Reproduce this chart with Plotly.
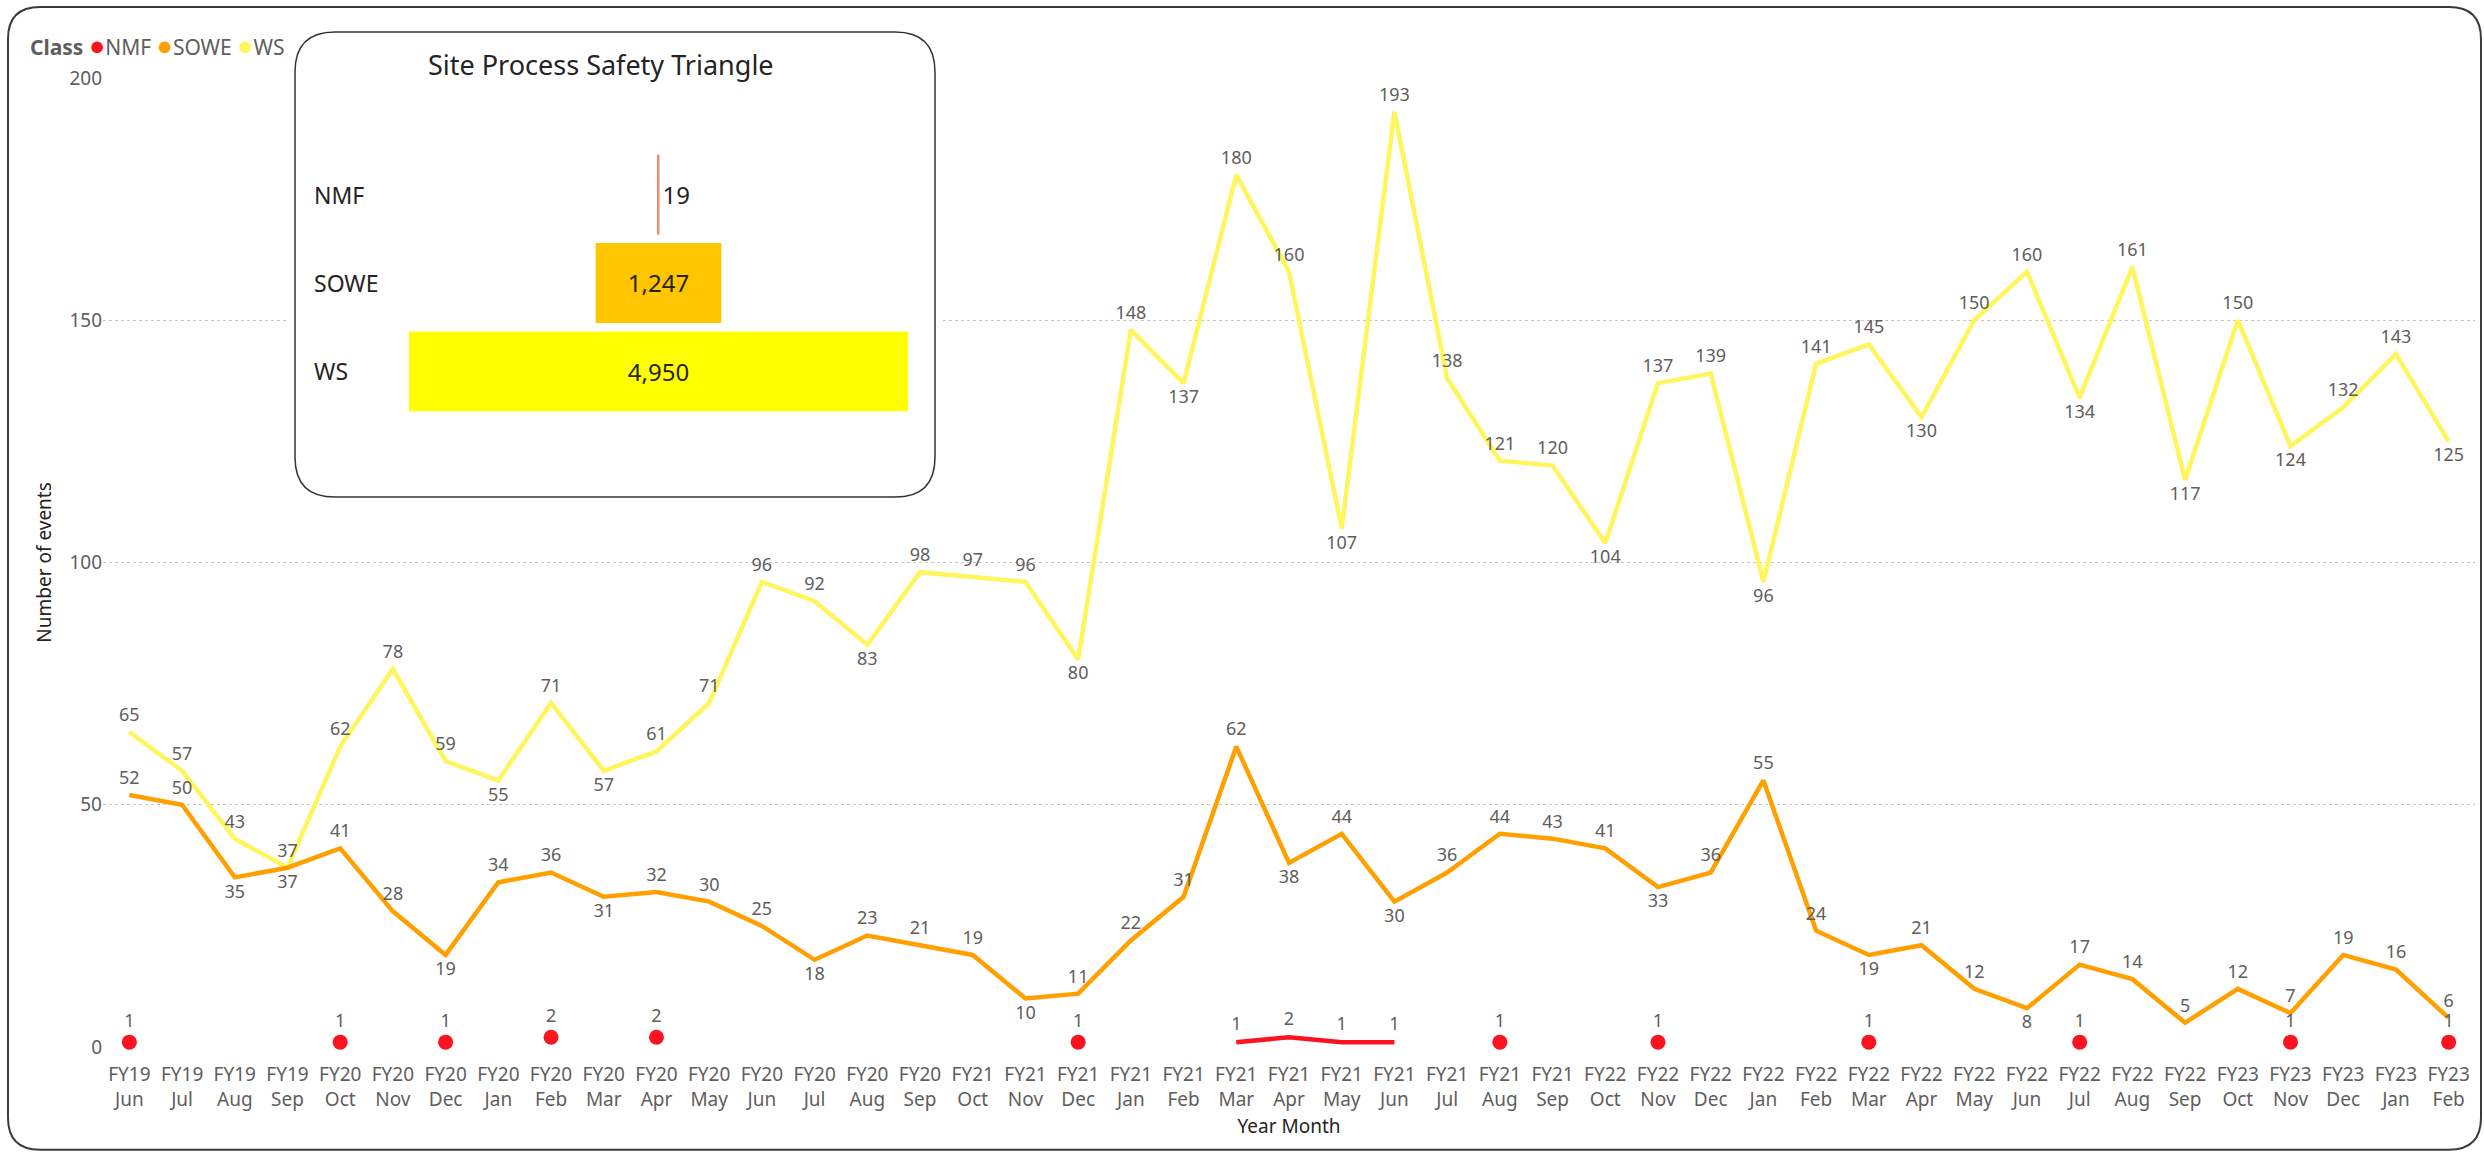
import plotly.graph_objects as go

# ---------------- data ----------------
fiscal_years = ["FY19", "FY19", "FY19", "FY19",
                "FY20", "FY20", "FY20", "FY20", "FY20", "FY20", "FY20", "FY20", "FY20", "FY20", "FY20", "FY20",
                "FY21", "FY21", "FY21", "FY21", "FY21", "FY21", "FY21", "FY21", "FY21", "FY21", "FY21", "FY21",
                "FY22", "FY22", "FY22", "FY22", "FY22", "FY22", "FY22", "FY22", "FY22", "FY22", "FY22", "FY22",
                "FY23", "FY23", "FY23", "FY23", "FY23"]
months = ["Jun", "Jul", "Aug", "Sep",
          "Oct", "Nov", "Dec", "Jan", "Feb", "Mar", "Apr", "May", "Jun", "Jul", "Aug", "Sep",
          "Oct", "Nov", "Dec", "Jan", "Feb", "Mar", "Apr", "May", "Jun", "Jul", "Aug", "Sep",
          "Oct", "Nov", "Dec", "Jan", "Feb", "Mar", "Apr", "May", "Jun", "Jul", "Aug", "Sep",
          "Oct", "Nov", "Dec", "Jan", "Feb"]

ws = [65, 57, 43, 37, 62, 78, 59, 55, 71, 57, 61, 71, 96, 92, 83, 98, 97, 96, 80, 148,
      137, 180, 160, 107, 193, 138, 121, 120, 104, 137, 139, 96, 141, 145, 130, 150, 160, 134,
      161, 117, 150, 124, 132, 143, 125]
sowe = [52, 50, 35, 37, 41, 28, 19, 34, 36, 31, 32, 30, 25, 18, 23, 21, 19, 10, 11, 22,
        31, 62, 38, 44, 30, 36, 44, 43, 41, 33, 36, 55, 24, 19, 21, 12, 8, 17, 14, 5,
        12, 7, 19, 16, 6]
nmf = [1, None, None, None, 1, None, 1, None, 2, None, 2, None, None, None, None, None,
       None, None, 1, None, None, 1, 2, 1, 1, None, 1, None, None, 1, None, None, None, 1,
       None, None, None, 1, None, None, None, 1, None, None, 1]

classes = ["NMF", "SOWE", "WS"]
y_ticks = [0, 50, 100, 150, 200]

# ---------------- styles ----------------
line_colors = {"NMF": "#FD1220", "SOWE": "#FFA000", "WS": "#FFF55C"}
funnel_colors = ["#EE8A6A", "#FFC600", "#FFFF00"]
label_grey = "#605E5C"
dark = "#252423"
FONT = "Segoe UI, Noto Sans, Open Sans, sans-serif"
TRANSPARENT = "rgba(0,0,0,0)"

W, H = 2484, 1155
L, R, T, B = 103, 9, 20, 108
PW, PH = W - L - R, H - T - B


def px_x(p):
    return (p - L) / PW


def px_y(p):
    return (H - B - p) / PH


categories = [f"{fy}<br>{m}" for fy, m in zip(fiscal_years, months)]


def label_positions(vals, other=None, win_top=True, min_room=8):
    out = []
    n = len(vals)
    for i, v in enumerate(vals):
        nb = [vals[j] for j in (i - 1, i + 1) if 0 <= j < n and vals[j] is not None]
        pos = "bottom center" if (nb and all(v < w for w in nb) and v >= min_room) else "top center"
        if other is not None and other[i] == v:
            pos = "top center" if win_top else "bottom center"
        out.append(pos)
    return out


LABEL_FONT = dict(size=18, color=label_grey, family=FONT)
fig = go.Figure()

# WS line
fig.add_trace(go.Scatter(
    x=categories, y=ws, mode="lines+markers+text", name="WS",
    line=dict(color=line_colors["WS"], width=4.5),
    marker=dict(size=9, color=TRANSPARENT),
    text=[str(v) for v in ws], textposition=label_positions(ws, sowe, True),
    textfont=LABEL_FONT, cliponaxis=False, showlegend=False, hoverinfo="skip"))

# SOWE line
fig.add_trace(go.Scatter(
    x=categories, y=sowe, mode="lines+markers+text", name="SOWE",
    line=dict(color=line_colors["SOWE"], width=4.5),
    marker=dict(size=9, color=TRANSPARENT),
    text=[str(v) for v in sowe], textposition=label_positions(sowe, ws, False),
    textfont=LABEL_FONT, cliponaxis=False, showlegend=False, hoverinfo="skip"))

# NMF: line where consecutive, dot where isolated
nmf_sizes, nmf_cols = [], []
for i, v in enumerate(nmf):
    prev_ = nmf[i - 1] if i > 0 else None
    next_ = nmf[i + 1] if i < len(nmf) - 1 else None
    iso = v is not None and prev_ is None and next_ is None
    nmf_sizes.append(15 if iso else 11)
    nmf_cols.append(line_colors["NMF"] if iso else TRANSPARENT)
fig.add_trace(go.Scatter(
    x=categories, y=nmf, mode="lines+markers+text", name="NMF",
    line=dict(color=line_colors["NMF"], width=4.5),
    marker=dict(size=nmf_sizes, color=nmf_cols, opacity=1, line=dict(width=0)),
    text=["" if v is None else str(v) for v in nmf], textposition="top center",
    textfont=LABEL_FONT, connectgaps=False, cliponaxis=False,
    showlegend=False, hoverinfo="skip"))

# ---------------- inset funnel ----------------
totals = [sum(v for v in nmf if v is not None), sum(sowe), sum(ws)]
fig.add_trace(go.Funnel(
    y=classes, x=totals, xaxis="x2", yaxis="y2",
    marker=dict(color=funnel_colors, line=dict(width=0)),
    connector=dict(visible=False),
    texttemplate="%{value:,}", textposition=["outside", "inside", "inside"],
    textfont=dict(size=24, color=dark, family=FONT),
    insidetextanchor="middle", constraintext="none",
    showlegend=False, hoverinfo="skip"))

# inset geometry (pixels)
box = (295, 30, 935, 496)
dom_px = (289, 24, 941, 502)
bar_left, bar_right = 409, 908
row_centres = (193, 370)
bar_height = 80
centre_px = (bar_left + bar_right) / 2
ux = max(totals) / (bar_right - bar_left)           # data units per px
row_pitch = (row_centres[1] - row_centres[0]) / (len(classes) - 1)


def fx2(p):
    return (p - centre_px) * ux


def fy2(p):
    return (p - row_centres[0]) / row_pitch


def rounded_path(x0, y0, x1, y1, r, fx, fy):
    pts = [
        ("M", [(x0 + r, y0)]), ("L", [(x1 - r, y0)]), ("Q", [(x1, y0), (x1, y0 + r)]),
        ("L", [(x1, y1 - r)]), ("Q", [(x1, y1), (x1 - r, y1)]), ("L", [(x0 + r, y1)]),
        ("Q", [(x0, y1), (x0, y1 - r)]), ("L", [(x0, y0 + r)]), ("Q", [(x0, y0), (x0 + r, y0)]),
    ]
    s = ""
    for cmd, ps in pts:
        s += cmd + " " + " ".join(f"{fx(a):.5f},{fy(b):.5f}" for a, b in ps) + " "
    return s + "Z"


shapes = [
    dict(type="path", xref="paper", yref="paper", layer="below",
         path=rounded_path(8, 5, 2481, 1150, 32, px_x, px_y),
         line=dict(color="#3C3C3C", width=2), fillcolor=TRANSPARENT),
    dict(type="path", xref="x2", yref="y2", layer="below",
         path=rounded_path(box[0], box[1], box[2], box[3], 40, fx2, fy2),
         line=dict(color="#333333", width=1.5), fillcolor="white"),
]

annotations = [
    dict(text="Site Process Safety Triangle", xref="paper", yref="paper",
         x=px_x(601), y=px_y(63), xanchor="center", yanchor="middle",
         showarrow=False, font=dict(size=27, color=dark, family=FONT)),
]
for c in classes:
    annotations.append(dict(text=c, xref="x2", yref="y2", x=fx2(312), y=c,
                            xanchor="left", yanchor="middle", showarrow=False,
                            font=dict(size=23, color=dark, family=FONT)))

legend_text = "<b>Class</b> " + " ".join(
    f"<span style='color:{line_colors[c]};font-size:27px'>●</span>{c}" for c in classes)
annotations.append(dict(text=legend_text, xref="paper", yref="paper", x=px_x(28), y=px_y(43),
                        xanchor="left", yanchor="middle", showarrow=False,
                        font=dict(size=21, color=label_grey, family=FONT)))

TICK_FONT = dict(size=19, color=label_grey, family=FONT)
TITLE_FONT = dict(size=19, color=dark, family=FONT)

fig.update_layout(
    width=W, height=H,
    margin=dict(l=L, r=R, t=T, b=B),
    paper_bgcolor="white", plot_bgcolor="white",
    font=dict(family=FONT, color=label_grey),
    showlegend=False,
    funnelgap=1 - bar_height / row_pitch,
    shapes=shapes, annotations=annotations,
    xaxis=dict(type="category", range=[-0.5, len(categories) - 0.5], showgrid=False,
               showline=False, zeroline=False, ticks="", tickangle=0,
               tickfont=TICK_FONT, ticklabelstandoff=14,
               title=dict(text="Year Month", font=TITLE_FONT, standoff=8)),
    yaxis=dict(domain=[0, px_y(76)], range=[0, 200], tickvals=y_ticks,
               showgrid=True, gridcolor="#C8C6C4", griddash="dot", gridwidth=1,
               zeroline=False, showline=False, ticks="",
               tickfont=TICK_FONT,
               title=dict(text="Number of events", font=TITLE_FONT, standoff=12)),
    xaxis2=dict(domain=[px_x(dom_px[0]), px_x(dom_px[2])],
                range=[fx2(dom_px[0]), fx2(dom_px[2])], anchor="y2",
                visible=False, showgrid=False, zeroline=False, fixedrange=True),
    yaxis2=dict(domain=[px_y(dom_px[3]), px_y(dom_px[1])],
                range=[fy2(dom_px[3]), fy2(dom_px[1])], anchor="x2", type="category",
                showticklabels=False, showgrid=False, zeroline=False, showline=False,
                ticks="", fixedrange=True),
)

fig.write_html("out.html", config={"displayModeBar": False},
               post_script="document.body.style.margin='0';document.body.style.overflow='hidden';")
